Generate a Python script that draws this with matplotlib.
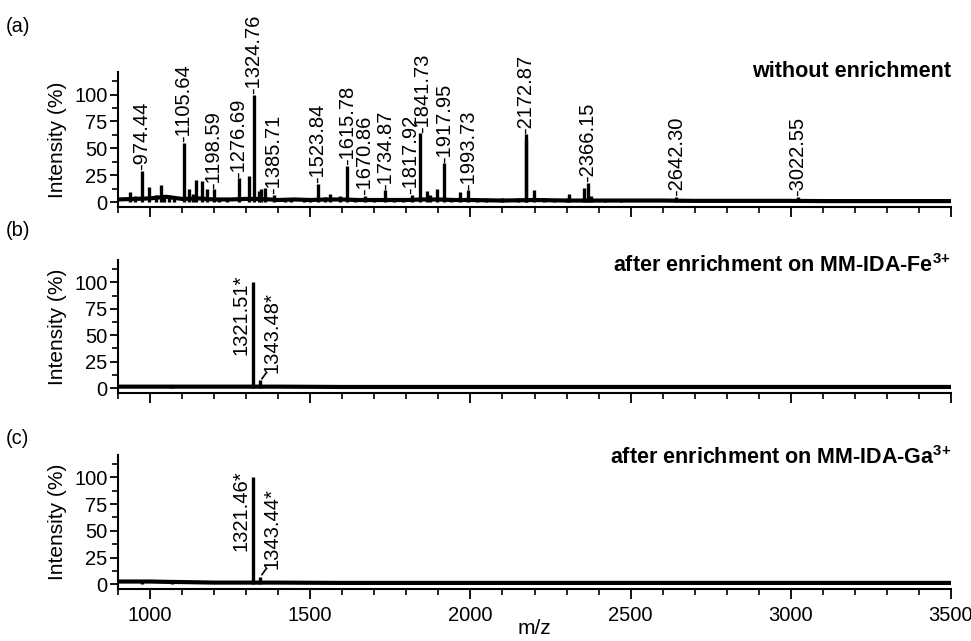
import matplotlib
matplotlib.use("Agg")
import matplotlib.pyplot as plt
from matplotlib.ticker import MultipleLocator

plt.rcParams['font.family'] = ['Liberation Sans', 'DejaVu Sans']
plt.rcParams['mathtext.fontset'] = 'custom'
plt.rcParams['mathtext.rm'] = 'Liberation Sans:bold'
plt.rcParams['mathtext.bf'] = 'Liberation Sans:bold'

# ---------------- data ----------------
# panel (a): without enrichment
base_mz_a = [900, 950, 1000, 1050, 1100, 1150, 1200, 1250, 1300, 1350, 1400, 1450, 1500,
             1550, 1600, 1650, 1700, 1750, 1800, 1850, 1900, 1950, 2000, 2100, 2200, 2300,
             2400, 2500, 2600, 2700, 2800, 2900, 3000, 3100, 3200, 3300, 3400, 3500]
base_int_a = [2.5, 3, 3.5, 5, 3, 3.5, 2.5, 2.5, 3, 3, 2, 2.5, 2, 2.5, 2.5, 2, 2, 2, 2, 2.5,
              2.5, 2, 2, 1.5, 2, 1.5, 1.5, 1.5, 1.5, 1.2, 1.2, 1.2, 1.2, 1, 1, 1, 1, 1]
peak_mz_a = [937, 953, 974.44, 997, 1020, 1034, 1045, 1060, 1075, 1105.64, 1122, 1135, 1144,
             1162, 1177, 1198.59, 1215, 1240, 1276.69, 1310, 1324.76, 1340, 1347, 1359,
             1385.71, 1420, 1440, 1480, 1500, 1523.84, 1545, 1562, 1594, 1615.78, 1640,
             1670.86, 1700, 1734.87, 1760, 1790, 1817.92, 1841.73, 1865, 1875, 1896,
             1917.95, 1940, 1966, 1993.73, 2020, 2050, 2100, 2150, 2172.87, 2175, 2197, 2230,
             2260, 2300, 2309, 2353, 2366.15, 2375, 2420, 2470, 2642.30, 2660, 3022.55, 3040]
peak_int_a = [9, 6, 29, 14, 7, 16, 7, 7, 6, 55, 12, 8, 21,
              20, 12, 12, 4, 4, 22, 24, 100, 10, 12, 13,
              7, 4, 4, 4, 3, 17, 5, 8, 6, 34, 4,
              6, 4, 11, 4, 4, 7, 64, 10, 7, 12,
              36, 4, 9, 11, 4, 4, 4, 4, 63, 58, 11, 4,
              3, 4, 8, 13, 18, 6, 3, 3, 5, 2.5, 5, 3]
labels_a = ["974.44", "1105.64", "1198.59", "1276.69", "1324.76", "1385.71", "1523.84",
            "1615.78", "1670.86", "1734.87", "1817.92", "1841.73", "1917.95", "1993.73",
            "2172.87", "2366.15", "2642.30", "3022.55"]

# panel (b): after enrichment on MM-IDA-Fe3+
base_mz_b = [900, 1000, 1100, 1200, 1300, 1400, 1600, 1800, 2000, 2500, 3000, 3500]
base_int_b = [1.5, 1.5, 1.5, 1.5, 1.5, 1.5, 1.2, 1.2, 1.2, 1.2, 1.2, 1.2]
peak_mz_b = [1070, 1321.51, 1343.48]
peak_int_b = [2.5, 100, 8]
labels_b = ["1321.51*", "1343.48*"]

# panel (c): after enrichment on MM-IDA-Ga3+
base_mz_c = [900, 950, 1000, 1050, 1100, 1200, 1300, 1400, 1600, 1800, 2000, 2500, 3000, 3500]
base_int_c = [2.5, 2.5, 2.5, 2.2, 2, 1.5, 1.5, 1.5, 1.2, 1.2, 1.2, 1.2, 1.2, 1.2]
peak_mz_c = [975, 1070, 1321.46, 1343.44]
peak_int_c = [3.5, 3.5, 100, 7]
labels_c = ["1321.46*", "1343.44*"]

# ---------------- figure ----------------
W, H = 971, 641
fig = plt.figure(figsize=(W / 100, H / 100), dpi=100)

def frac(left, right, top, bottom):
    return [left / W, 1 - bottom / H, (right - left) / W, (bottom - top) / H]

ax_a = fig.add_axes(frac(118, 951, 72, 207))
ax_b = fig.add_axes(frac(118, 951, 260, 393))
ax_c = fig.add_axes(frac(118, 951, 455, 589))

FS = 14.5

def style(ax, show_x):
    ax.set_xlim(900, 3500)
    ax.set_ylim(-4.5, 121)
    for s in ['top', 'right']:
        ax.spines[s].set_visible(False)
    for s in ['left', 'bottom']:
        ax.spines[s].set_linewidth(1.5)
    ax.yaxis.set_major_locator(MultipleLocator(25))
    ax.yaxis.set_minor_locator(MultipleLocator(12.5))
    ax.xaxis.set_major_locator(MultipleLocator(500))
    ax.xaxis.set_minor_locator(MultipleLocator(100))
    ax.tick_params(axis='y', which='major', direction='out', length=6, width=1.3,
                   labelsize=FS, pad=1.5)
    ax.tick_params(axis='y', which='minor', direction='out', length=4, width=1.2)
    ax.tick_params(axis='x', which='major', direction='out', length=7, width=1.3,
                   labelsize=FS, pad=5, labelbottom=show_x)
    ax.tick_params(axis='x', which='minor', direction='out', length=4, width=1.2)
    ax.set_ylabel("Intensity (%)", fontsize=15, labelpad=5)

def spectrum(ax, bmz, bint, pmz, pint):
    ax.plot(bmz, bint, color='black', lw=3, solid_joinstyle='miter')
    ax.vlines(pmz, 0, pint, color='black', lw=2.4)

style(ax_a, False)
style(ax_b, False)
style(ax_c, True)

spectrum(ax_a, base_mz_a, base_int_a, peak_mz_a, peak_int_a)
spectrum(ax_b, base_mz_b, base_int_b, peak_mz_b, peak_int_b)
spectrum(ax_c, base_mz_c, base_int_c, peak_mz_c, peak_int_c)

# peak labels (a)
lab_h = {float(m): h for m, h in zip(peak_mz_a, peak_int_a)}
nudge = {"1817.92": -4, "1841.73": 9}
for lab in labels_a:
    m = float(lab)
    ax_a.text(m + nudge.get(lab, 0), lab_h[m] + 0.5, "-" + lab, rotation=90,
              ha='center', va='bottom', fontsize=FS)

# peak labels (b), (c)
for ax, labs, pm in ((ax_b, labels_b, peak_mz_b), (ax_c, labels_c, peak_mz_c)):
    ax.text(pm[-2] - 37, 31, labs[0], rotation=90, ha='center', va='bottom', fontsize=FS)
    ax.text(pm[-1] + 38, 14, labs[1], rotation=90, ha='center', va='bottom', fontsize=FS)
    ax.plot([pm[-1] + 6, pm[-1] + 18], [9, 14], color='black', lw=1.2)

# panel titles
ax_a.text(3500, 121.5, "without enrichment", ha='right', va='center',
          fontsize=15.5, fontweight='bold')
ax_b.text(3500, 116, r"after enrichment on MM-IDA-Fe$^{3{+}}$", ha='right', va='center',
          fontsize=15.5, fontweight='bold')
ax_c.text(3500, 118.5, r"after enrichment on MM-IDA-Ga$^{3{+}}$", ha='right', va='center',
          fontsize=15.5, fontweight='bold')

fig.text(6 / W, 1 - 26 / H, "(a)", fontsize=FS, ha='left', va='center')
fig.text(6 / W, 1 - 230 / H, "(b)", fontsize=FS, ha='left', va='center')
fig.text(6 / W, 1 - 438 / H, "(c)", fontsize=FS, ha='left', va='center')
fig.text(534 / W, 1 - 629 / H, "m/z", fontsize=15, ha='center', va='center')

fig.savefig("out.png", dpi=100)
